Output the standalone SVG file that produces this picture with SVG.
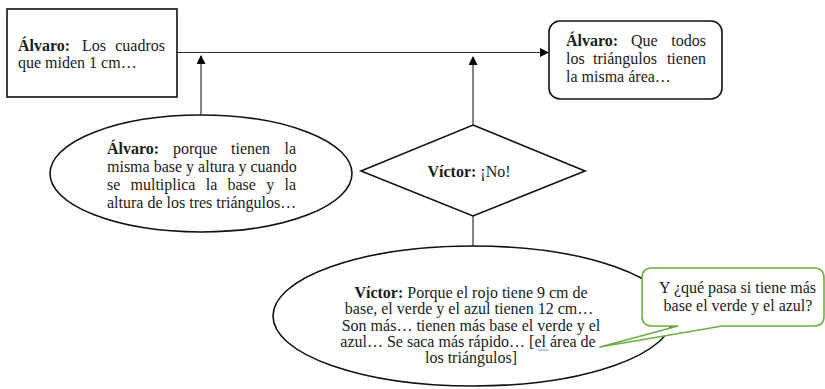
<svg xmlns="http://www.w3.org/2000/svg" width="825" height="389" viewBox="0 0 825 389">
<style>
.t{font-family:"Liberation Serif","Times New Roman",serif;font-size:16px;fill:#1a1a1a}
.b{font-weight:bold}
.shape{fill:#fff;stroke:#111;stroke-width:1.6}
.con{fill:none;stroke:#333;stroke-width:1.2}
.call{fill:#fff;stroke:#70ad47;stroke-width:1.6;stroke-linejoin:round}
</style>
<defs>
<marker id="arr" markerUnits="userSpaceOnUse" markerWidth="9" markerHeight="9" refX="8" refY="4.5" orient="auto">
<path d="M0,0 L9,4.5 L0,9 z" fill="#000"/>
</marker>
</defs>
<rect width="825" height="389" fill="#fff"/>
<g id="connectors">
<line class="con" x1="177" y1="52.5" x2="548" y2="52.5" marker-end="url(#arr)"/>
<line class="con" x1="201" y1="115" x2="201" y2="56" marker-end="url(#arr)"/>
<line class="con" x1="473" y1="125" x2="473" y2="57" marker-end="url(#arr)"/>
<line class="con" x1="473" y1="216" x2="473" y2="246"/>
</g>
<g id="node-alvaro-cuadros">
<rect class="shape" x="7" y="9" width="170" height="88"/>
<text class="t" y="51"><tspan class="b" x="18">Álvaro:</tspan><tspan x="82">Los</tspan><tspan x="165" text-anchor="end">cuadros</tspan></text>
<text class="t" x="18" y="67.5">que miden 1 cm…</text>
</g>
<g id="node-alvaro-area">
<rect class="shape" x="549" y="21" width="173" height="78" rx="11" ry="11"/>
<text class="t" y="46"><tspan class="b" x="566">Álvaro:</tspan><tspan x="631">Que</tspan><tspan x="706" text-anchor="end">todos</tspan></text>
<text class="t" y="64"><tspan x="566">los</tspan><tspan x="593">triángulos</tspan><tspan x="706" text-anchor="end">tienen</tspan></text>
<text class="t" x="566" y="82">la misma área…</text>
</g>
<g id="node-alvaro-base">
<ellipse class="shape" cx="201" cy="173.5" rx="151" ry="58.5"/>
<text class="t" y="154"><tspan class="b" x="107">Álvaro:</tspan><tspan x="173">porque</tspan><tspan x="231">tienen</tspan><tspan x="296" text-anchor="end">la</tspan></text>
<text class="t" x="107" y="171.8">misma base y altura y cuando</text>
<text class="t" y="189.8"><tspan x="107">se</tspan><tspan x="130.5">multiplica</tspan><tspan x="205.7">la</tspan><tspan x="227.5">base</tspan><tspan x="266.2">y</tspan><tspan x="296" text-anchor="end">la</tspan></text>
<text class="t" x="107" y="207.5">altura de los tres triángulos…</text>
</g>
<g id="node-victor-no">
<polygon class="shape" points="473,125 585,171 473,216 361,171"/>
<text class="t" x="469" y="176.7" text-anchor="middle"><tspan class="b">Víctor:</tspan> ¡No!</text>
</g>
<g id="node-victor-base">
<ellipse class="shape" cx="473" cy="316" rx="200" ry="70"/>
<text class="t" x="471" y="297.7" text-anchor="middle"><tspan class="b">Víctor:</tspan> Porque el rojo tiene 9 cm de</text>
<text class="t" x="469" y="314.3" text-anchor="middle">base, el verde y el azul tienen 12 cm…</text>
<text class="t" x="471" y="331" text-anchor="middle">Son más… tienen más base el verde y el</text>
<text class="t" x="468" y="346.8" text-anchor="middle">azul… Se saca más rápido… [el área de</text>
<text class="t" x="471" y="362.7" text-anchor="middle">los triángulos]</text>
<path d="M538,349.5 l1.5,1.2 l1.5,-1.2 l1.5,1.2 l1.5,-1.2 l1.5,1.2 l1.5,-1.2 l1.5,1.2" fill="none" stroke="#4a6fd8" stroke-width="0.8"/>
</g>
<g id="node-callout">
<path class="call" d="M652,268 H814 Q824,268 824,278 V316 Q824,326 814,326 H722 L600,347 L678,326 H652 Q642,326 642,316 V278 Q642,268 652,268 Z"/>
<text class="t" x="737.5" y="293.3" text-anchor="middle">Y ¿qué pasa si tiene más</text>
<text class="t" x="738" y="311" text-anchor="middle">base el verde y el azul?</text>
</g>
</svg>
